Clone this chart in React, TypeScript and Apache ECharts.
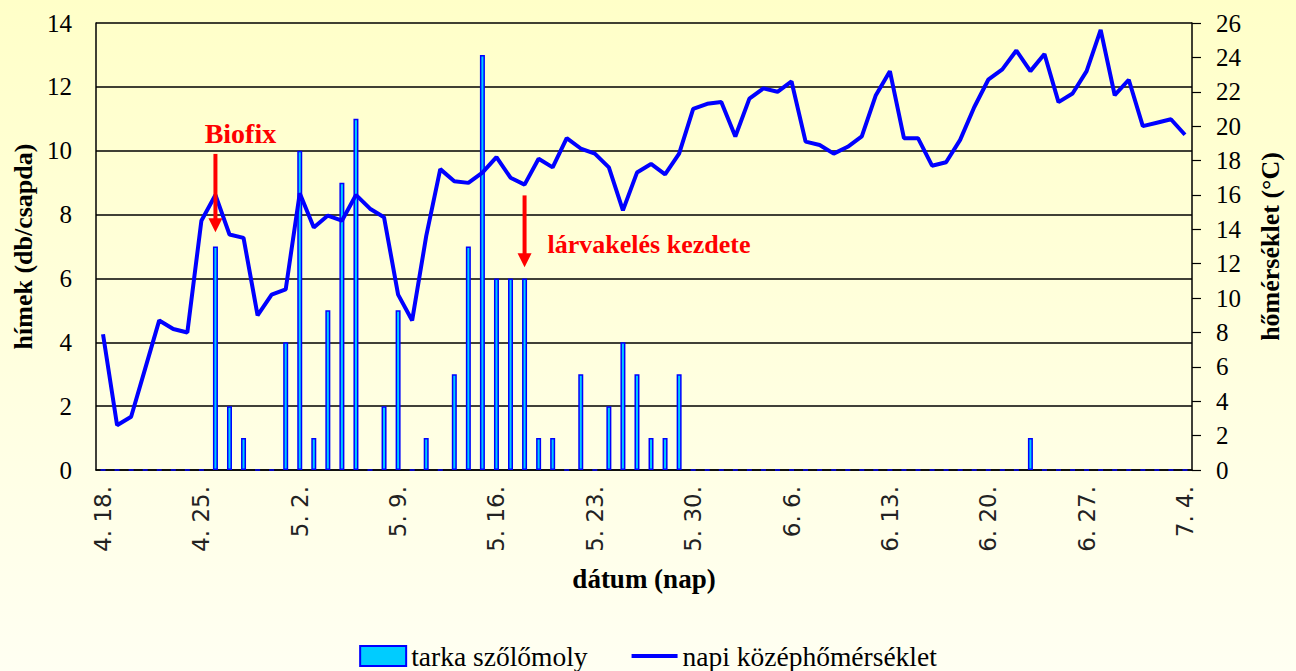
import React, { useEffect, useRef } from "react";
import * as echarts from "echarts";

const DATES = [
  "4. 18.", "4. 19.", "4. 20.", "4. 21.", "4. 22.", "4. 23.", "4. 24.", "4. 25.", "4. 26.", "4. 27.",
  "4. 28.", "4. 29.", "4. 30.", "5. 1.", "5. 2.", "5. 3.", "5. 4.", "5. 5.", "5. 6.", "5. 7.",
  "5. 8.", "5. 9.", "5. 10.", "5. 11.", "5. 12.", "5. 13.", "5. 14.", "5. 15.", "5. 16.", "5. 17.",
  "5. 18.", "5. 19.", "5. 20.", "5. 21.", "5. 22.", "5. 23.", "5. 24.", "5. 25.", "5. 26.", "5. 27.",
  "5. 28.", "5. 29.", "5. 30.", "5. 31.", "6. 1.", "6. 2.", "6. 3.", "6. 4.", "6. 5.", "6. 6.",
  "6. 7.", "6. 8.", "6. 9.", "6. 10.", "6. 11.", "6. 12.", "6. 13.", "6. 14.", "6. 15.", "6. 16.",
  "6. 17.", "6. 18.", "6. 19.", "6. 20.", "6. 21.", "6. 22.", "6. 23.", "6. 24.", "6. 25.", "6. 26.",
  "6. 27.", "6. 28.", "6. 29.", "6. 30.", "7. 1.", "7. 2.", "7. 3.", "7. 4.",
];

// hímek (db/csapda) — tarka szőlőmoly
const MOTH_COUNTS = [
  0, 0, 0, 0, 0, 0, 0, 0, 7, 2,
  1, 0, 0, 4, 10, 1, 5, 9, 11, 0,
  2, 5, 0, 1, 0, 3, 7, 13, 6, 6,
  6, 1, 1, 0, 3, 0, 2, 4, 3, 1,
  1, 3, 0, 0, 0, 0, 0, 0, 0, 0,
  0, 0, 0, 0, 0, 0, 0, 0, 0, 0,
  0, 0, 0, 0, 0, 0, 1, 0, 0, 0,
  0, 0, 0, 0, 0, 0, 0, 0,
];

// napi középhőmérséklet (°C)
const TEMPS = [
  7.9, 2.6, 3.1, 5.9, 8.7, 8.2, 8.0, 14.5, 16.0, 13.7,
  13.5, 9.0, 10.2, 10.5, 16.1, 14.1, 14.8, 14.5, 16.0, 15.2,
  14.7, 10.2, 8.7, 13.6, 17.5, 16.8, 16.7, 17.3, 18.2, 17.0,
  16.6, 18.1, 17.6, 19.3, 18.7, 18.4, 17.6, 15.1, 17.3, 17.8,
  17.2, 18.4, 21.0, 21.3, 21.4, 19.4, 21.6, 22.2, 22.0, 22.6,
  19.1, 18.9, 18.4, 18.8, 19.4, 21.8, 23.2, 19.3, 19.3, 17.7,
  17.9, 19.2, 21.1, 22.7, 23.3, 24.4, 23.2, 24.2, 21.4, 21.9,
  23.2, 25.6, 21.8, 22.7, 20.0, 20.2, 20.4, 19.5,
];

const SERIES_NAMES = ["tarka szőlőmoly", "napi középhőmérséklet"];
const LEFT_TICKS = { min: 0, max: 14, interval: 2 };
const RIGHT_TICKS = { min: 0, max: 26, interval: 2 };

// annotations: date index, arrow start and tip on the left (hímek) axis
const ANNOTATION_TEXTS = ["Biofix", "lárvakelés kezdete"];
const ANNOTATION_DAYS = [8, 30];
const ANNOTATION_FROM = [9.9, 8.6];
const ANNOTATION_TO = [7.45, 6.35];

const SERIF = "Liberation Serif";
const SANS = "DejaVu Sans";

export default function App() {
  const ref = useRef<HTMLDivElement>(null);

  useEffect(() => {
    if (!ref.current) return;
    const chart = echarts.init(ref.current, undefined, { renderer: "svg" });
    const option: any = {
      animation: false,
      textStyle: { fontFamily: SERIF },
      backgroundColor: {
        type: "linear",
        x: 0,
        y: 0,
        x2: 0,
        y2: 1,
        colorStops: [
          { offset: 0, color: "#FFFFC8" },
          { offset: 1, color: "#FFFFF2" },
        ],
      },
      grid: { left: 96, right: 104, top: 23, bottom: 201, containLabel: false, outerBoundsMode: "none" },
      legend: {
        data: [
          { name: SERIES_NAMES[0], icon: "rect" },
          { name: SERIES_NAMES[1], icon: "path://M0,0 L48,0 L48,4 L0,4 Z" },
        ],
        left: "center",
        top: 637,
        itemWidth: 46,
        itemHeight: 20,
        itemGap: 44,
        textStyle: { fontFamily: SERIF, fontSize: 27.5, color: "#000" },
      },
      xAxis: {
        type: "category",
        data: DATES,
        boundaryGap: true,
        axisLine: { lineStyle: { color: "#000", width: 1.5 } },
        axisTick: { interval: 6, length: 8, lineStyle: { color: "#000", width: 1.5 } },
        axisLabel: {
          interval: 6,
          rotate: 90,
          margin: 16,
          fontFamily: SANS,
          fontSize: 23,
          color: "#222",
        },
        splitLine: { show: false },
        name: "dátum (nap)",
        nameLocation: "middle",
        nameGap: 95,
        nameTextStyle: { fontFamily: SERIF, fontWeight: "bold", fontSize: 27, color: "#000", verticalAlign: "top" },
      },
      yAxis: [
        {
          type: "value",
          position: "left",
          min: LEFT_TICKS.min,
          max: LEFT_TICKS.max,
          interval: LEFT_TICKS.interval,
          axisLine: { show: true, lineStyle: { color: "#000", width: 1.5 } },
          axisTick: { show: false },
          splitLine: { show: true, lineStyle: { color: "#000", width: 1.5 } },
          axisLabel: { margin: 24, fontFamily: SERIF, fontSize: 25, color: "#000" },
          name: "hímek (db/csapda)",
          nameLocation: "middle",
          nameRotate: 90,
          nameGap: 60,
          nameTextStyle: { fontFamily: SERIF, fontWeight: "bold", fontSize: 26, color: "#000" },
        },
        {
          type: "value",
          position: "right",
          min: RIGHT_TICKS.min,
          max: RIGHT_TICKS.max,
          interval: RIGHT_TICKS.interval,
          axisLine: { show: true, lineStyle: { color: "#000", width: 1.5 } },
          axisTick: { show: true, inside: false, length: 9, lineStyle: { color: "#000", width: 1.2 } },
          splitLine: { show: false },
          axisLabel: { margin: 24, fontFamily: SERIF, fontSize: 25, color: "#000" },
          name: "hőmérséklet (°C)",
          nameLocation: "middle",
          nameRotate: 90,
          nameGap: 65,
          nameTextStyle: { fontFamily: SERIF, fontWeight: "bold", fontSize: 26, color: "#000" },
        },
      ],
      series: [
        {
          name: SERIES_NAMES[0],
          type: "bar",
          yAxisIndex: 0,
          data: MOTH_COUNTS,
          barWidth: 5,
          itemStyle: { color: "#00CCFF", borderColor: "#0000FF", borderWidth: 1.5 },
          z: 2,
        },
        {
          name: SERIES_NAMES[1],
          type: "line",
          yAxisIndex: 1,
          data: TEMPS,
          symbol: "none",
          showSymbol: false,
          lineStyle: { color: "#0000FF", width: 4 },
          itemStyle: { color: "#0000FF" },
          z: 3,
        },
      ],
    };
    chart.setOption(option);

    const elements: any[] = [];
    ANNOTATION_TEXTS.forEach((text, i) => {
      const top = chart.convertToPixel({ xAxisIndex: 0, yAxisIndex: 0 }, [ANNOTATION_DAYS[i], ANNOTATION_FROM[i]]) as number[];
      const tip = chart.convertToPixel({ xAxisIndex: 0, yAxisIndex: 0 }, [ANNOTATION_DAYS[i], ANNOTATION_TO[i]]) as number[];
      const x = top[0];
      const head = 14;
      elements.push({
        type: "line",
        shape: { x1: x, y1: top[1], x2: x, y2: tip[1] - head + 1 },
        style: { stroke: "#FF0000", lineWidth: 4 },
        z: 10,
      });
      elements.push({
        type: "polygon",
        shape: { points: [[x - 7, tip[1] - head], [x + 7, tip[1] - head], [x, tip[1]]] },
        style: { fill: "#FF0000" },
        z: 10,
      });
      if (i === 0) {
        elements.push({
          type: "text",
          x: x + 25,
          y: top[1] - 20,
          style: {
            text,
            fill: "#FF0000",
            font: `bold 28px ${SERIF}`,
            align: "center",
            verticalAlign: "middle",
            textAlign: "center",
            textVerticalAlign: "middle",
          },
          z: 10,
        });
      } else {
        elements.push({
          type: "text",
          x: x + 23,
          y: top[1] + 49,
          style: {
            text,
            fill: "#FF0000",
            font: `bold 26px ${SERIF}`,
            align: "left",
            verticalAlign: "middle",
            textAlign: "left",
            textVerticalAlign: "middle",
          },
          z: 10,
        });
      }
    });
    chart.setOption({ graphic: elements });

    return () => chart.dispose();
  }, []);

  return (
    <div
      ref={ref}
      style={{ position: "fixed", left: 0, top: 0, width: 1296, height: 671 }}
    />
  );
}
